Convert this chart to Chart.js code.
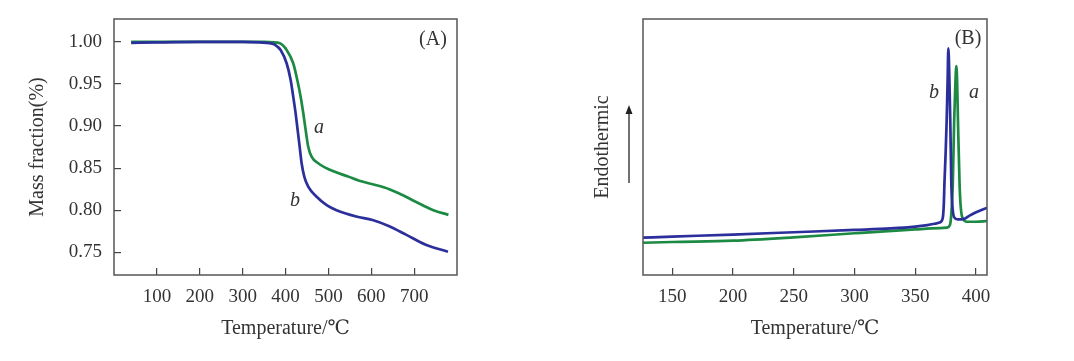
<!DOCTYPE html>
<html>
<head>
<meta charset="utf-8">
<script src="https://cdn.jsdelivr.net/npm/chart.js@4.4.1/dist/chart.umd.min.js"></script>
<style>
  body { margin: 0; background: #fff; }
  .panel { position: absolute; top: 0; width: 537px; height: 361px; }
</style>
</head>
<body>
<div class="panel" style="left:0"><canvas id="chartA"></canvas></div>
<div class="panel" style="left:537px"><canvas id="chartB"></canvas></div>
<script>
// (A) TG curves: mass fraction vs temperature
const tempA_a = [40, 100, 200, 300, 350, 370, 387, 402.6, 418, 427.5, 435.3, 441.5, 447, 453, 460.8, 476.3, 503.6, 546, 572, 610, 642, 673, 700, 720, 745, 780];
const massA_a = [1.000, 1.000, 1.000, 1.000, 1.000, 0.9995, 0.9985, 0.9905, 0.9747, 0.9548, 0.935, 0.9152, 0.8954, 0.8755, 0.8636, 0.8558, 0.848, 0.840, 0.835, 0.830, 0.825, 0.818, 0.811, 0.806, 0.800, 0.7945];
const tempA_b = [40, 100, 200, 300, 340, 355, 364, 376, 388.6, 402.6, 412, 418, 423.6, 428.3, 433, 437.6, 443.8, 453, 472.6, 496, 519, 565, 603, 642, 681, 727, 779];
const massA_b = [0.999, 0.9995, 1.000, 1.000, 0.9995, 0.999, 0.9985, 0.9965, 0.9905, 0.9747, 0.9548, 0.935, 0.9152, 0.8954, 0.8755, 0.8558, 0.840, 0.828, 0.816, 0.806, 0.800, 0.7925, 0.7884, 0.781, 0.771, 0.759, 0.7507];
const tempTicksA = [100, 200, 300, 400, 500, 600, 700];
const massTicksA = [0.75, 0.80, 0.85, 0.90, 0.95, 1.00];

// (B) DSC curves: heat flow (arbitrary units) vs temperature
const tempB_a = [126, 150, 200, 250, 300, 350, 370, 376, 378.5, 379.5, 380.8, 382, 383, 383.8, 384.5, 385.1, 386.5, 388.5, 392.6, 400, 409];
const heatB_a = [12.6, 12.9, 13.4, 14.7, 16.3, 17.8, 18.3, 18.5, 19.5, 23, 34.5, 60.5, 75, 81.6, 74, 60.5, 34.5, 22.8, 20.8, 20.8, 21.1];
const tempB_b = [126, 150, 200, 250, 300, 330, 350, 360, 366, 370, 372.5, 373.5, 374, 375, 375.8, 376.6, 377.2, 378, 378.8, 379.7, 380.8, 382, 385, 389.6, 395, 400, 409];
const heatB_b = [14.6, 15.0, 15.8, 16.7, 17.6, 18.2, 18.9, 19.5, 20.0, 20.5, 22, 28, 36, 48, 60, 76, 88.5, 78, 60, 35, 25.5, 22.5, 21.7, 21.8, 23.3, 24.5, 26.3];
const tempTicksB = [150, 200, 250, 300, 350, 400];

const SERIF = '"Liberation Serif", "DejaVu Serif", serif';
const TEXT = '#333';
const GREEN = '#1d8a44';
const BLUE = '#2b2f9b';

const pts = (xs, ys) => xs.map((x, i) => ({ x: x, y: ys[i] }));

function series(label, xs, ys, color) {
  return {
    label: label,
    data: pts(xs, ys),
    borderColor: color,
    borderWidth: 2.7,
    pointRadius: 0,
    cubicInterpolationMode: 'monotone',
    fill: false
  };
}

// box around the plot area
const framePlugin = {
  id: 'frame',
  afterDatasetsDraw(chart) {
    const { ctx, chartArea: a } = chart;
    ctx.save();
    ctx.strokeStyle = '#555';
    ctx.lineWidth = 1.5;
    ctx.strokeRect(a.left, a.top, a.right - a.left, a.bottom - a.top);
    ctx.restore();
  }
};

// text tags placed in data coordinates
function tagPlugin(tags) {
  return {
    id: 'tags',
    afterDatasetsDraw(chart) {
      const { ctx, scales } = chart;
      ctx.save();
      ctx.fillStyle = TEXT;
      ctx.textAlign = 'center';
      ctx.textBaseline = 'middle';
      tags.forEach(t => {
        ctx.font = (t.italic ? 'italic ' : '') + '20px ' + SERIF;
        ctx.fillText(t.text, scales.x.getPixelForValue(t.x), scales.y.getPixelForValue(t.y));
      });
      ctx.restore();
    }
  };
}

// upward arrow next to the "Endothermic" title
const arrowPlugin = {
  id: 'arrow',
  afterDraw(chart) {
    const { ctx, chartArea: a } = chart;
    const x = a.left - 14, y0 = a.top + 164, y1 = a.top + 86;
    ctx.save();
    ctx.strokeStyle = '#222';
    ctx.fillStyle = '#222';
    ctx.lineWidth = 1.3;
    ctx.beginPath();
    ctx.moveTo(x, y0);
    ctx.lineTo(x, y1 + 6);
    ctx.stroke();
    ctx.beginPath();
    ctx.moveTo(x, y1);
    ctx.lineTo(x - 3.5, y1 + 9);
    ctx.lineTo(x + 3.5, y1 + 9);
    ctx.closePath();
    ctx.fill();
    ctx.restore();
  }
};

function xScale(min, max, ticks) {
  return {
    type: 'linear',
    min: min,
    max: max,
    afterBuildTicks: s => { s.ticks = ticks.map(v => ({ value: v })); },
    afterFit: s => { s.height = 86; s.paddingLeft = 0; s.paddingRight = 0; },
    grid: { drawOnChartArea: false, tickLength: -7, color: '#444', lineWidth: 1.2 },
    border: { display: false },
    ticks: { padding: 18, color: TEXT, font: { family: SERIF, size: 19 } },
    title: {
      display: true, text: 'Temperature/℃', color: TEXT,
      font: { family: SERIF, size: 20 }, padding: { top: 0, bottom: 20 }
    }
  };
}

Chart.defaults.animation = false;

new Chart(document.getElementById('chartA'), {
  type: 'line',
  data: {
    datasets: [
      series('b', tempA_b, massA_b, BLUE),
      series('a', tempA_a, massA_a, GREEN)
    ]
  },
  options: {
    responsive: true,
    maintainAspectRatio: false,
    layout: { padding: { left: 0, top: 19, right: 80, bottom: 0 } },
    plugins: { legend: { display: false }, tooltip: { enabled: false } },
    scales: {
      x: xScale(0, 800, tempTicksA),
      y: {
        type: 'linear',
        min: 0.723,
        max: 1.0273,
        afterBuildTicks: s => { s.ticks = massTicksA.map(v => ({ value: v })); },
        afterFit: s => { s.width = 114; s.paddingTop = 0; s.paddingBottom = 0; },
        grid: { drawOnChartArea: false, tickLength: -7, color: '#444', lineWidth: 1.2 },
        border: { display: false },
        ticks: {
          padding: 19, color: TEXT, font: { family: SERIF, size: 19 },
          callback: v => v.toFixed(2)
        },
        title: {
          display: true, text: 'Mass fraction(%)', color: TEXT,
          font: { family: SERIF, size: 20 }, padding: { top: 26, bottom: 0 }
        }
      }
    }
  },
  plugins: [framePlugin, tagPlugin([
    { text: '(A)', x: 744, y: 1.0024 },
    { text: 'a', x: 478, y: 0.8977, italic: true },
    { text: 'b', x: 422, y: 0.811, italic: true }
  ])]
});

new Chart(document.getElementById('chartB'), {
  type: 'line',
  data: {
    datasets: [
      series('b', tempB_b, heatB_b, BLUE),
      series('a', tempB_a, heatB_a, GREEN)
    ]
  },
  options: {
    responsive: true,
    maintainAspectRatio: false,
    layout: { padding: { left: 0, top: 19, right: 87, bottom: 0 } },
    plugins: { legend: { display: false }, tooltip: { enabled: false } },
    scales: {
      x: xScale(126, 409, tempTicksB),
      y: {
        type: 'linear',
        min: 0,
        max: 100,
        afterFit: s => { s.width = 106; },
        grid: { display: false },
        border: { display: false },
        ticks: { display: false },
        title: {
          display: true, text: 'Endothermic', color: TEXT,
          font: { family: SERIF, size: 20 }, padding: { top: 54, bottom: 0 }
        }
      }
    }
  },
  plugins: [framePlugin, arrowPlugin, tagPlugin([
    { text: '(B)', x: 393.4, y: 92.2 },
    { text: 'b', x: 365.4, y: 71.1, italic: true },
    { text: 'a', x: 398.3, y: 71.1, italic: true }
  ])]
});
</script>
</body>
</html>
